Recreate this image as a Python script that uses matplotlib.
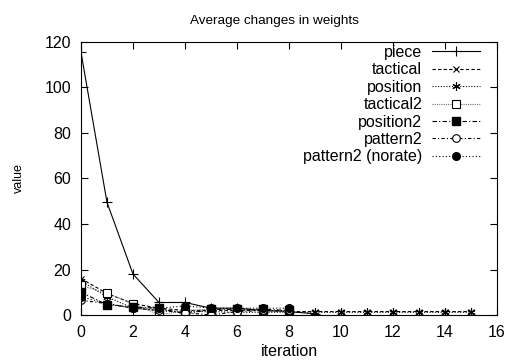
import matplotlib.pyplot as plt

plt.rcParams['font.family'] = ['Liberation Sans', 'DejaVu Sans']

# values
iters = list(range(16))
piece = [115.5, 49.5, 18, 5.5, 5.5, 3, 3, 2, 1.5, 0.5]
tactical = [16, 9.5, 5, 3, 2, 2, 2, 2, 1.5, 1.5, 1.5, 1.5, 1.5, 1.5, 1.5, 1.5]
position = [15, 8, 3, 2, 1.5, 1.5, 1.2, 1.2, 1.2, 1.2, 1.2, 1.2, 1.2, 1.2, 1.2, 1.2]
tactical2 = [13, 9.5, 5, 0, 2, 2.5, 2.5, 2, 1.5]
position2 = [10, 4.5, 3.5, 3, 0.5, 2.5, 2.5, 2.5, 2]
pattern2 = [6.5, 5, 3, 2, 1, 0, 1.5, 2, 2]
pattern2_norate = [8, 5, 3, 3, 4, 3, 3, 3, 3]

fig = plt.figure(figsize=(5.11, 3.61), dpi=100)
ax = fig.add_axes([0.1585, 0.1274, 0.8141, 0.7563])

lw = 0.8
ax.plot(iters[:len(piece)], piece, color='black', lw=lw, ls='-', marker='+', ms=7, mew=lw, label='piece')
ax.plot(iters[:len(tactical)], tactical, color='black', lw=lw, ls=(0, (3, 2)), marker='x', ms=5, mew=lw, label='tactical')
ax.plot(iters[:len(position)], position, color='black', lw=lw, ls=(0, (1, 1.5)), marker=(6, 2, 0), ms=6, mew=lw, label='position')
ax.plot(iters[:len(tactical2)], tactical2, color='0.45', lw=lw, ls=(0, (1, 1)), marker='s', ms=5.5, mfc='white', mec='black', mew=lw, label='tactical2')
ax.plot(iters[:len(position2)], position2, color='black', lw=lw, ls=(0, (4, 2, 1, 2)), marker='s', ms=5.5, mfc='black', mec='black', label='position2')
ax.plot(iters[:len(pattern2)], pattern2, color='black', lw=lw, ls=(0, (3, 2, 1, 2)), marker='o', ms=5.5, mfc='white', mec='black', mew=lw, label='pattern2')
ax.plot(iters[:len(pattern2_norate)], pattern2_norate, color='black', lw=lw, ls=(0, (1, 2)), marker='o', ms=5.5, mfc='black', mec='black', label='pattern2 (norate)')

ax.set_xlim(0, 16)
ax.set_ylim(0, 120)
ax.set_xticks(range(0, 17, 2))
ax.set_yticks(range(0, 121, 20))
ax.tick_params(direction='in', top=True, right=True, length=5, width=0.8, labelsize=11.5, pad=7)
for s in ax.spines.values():
    s.set_linewidth(0.8)

ax.set_title('Average changes in weights', fontsize=9.7, pad=13, x=0.465)
ax.set_xlabel('iteration', fontsize=11.5, labelpad=3)
ax.set_ylabel('value', fontsize=9, labelpad=14)

ax.legend(loc='upper right', bbox_to_anchor=(0.962, 0.995), frameon=False,
          markerfirst=False, fontsize=11.5, handlelength=3.0, handletextpad=0.6,
          labelspacing=0.15, borderpad=0.1, borderaxespad=0.0)

fig.savefig('out.png', dpi=100)
